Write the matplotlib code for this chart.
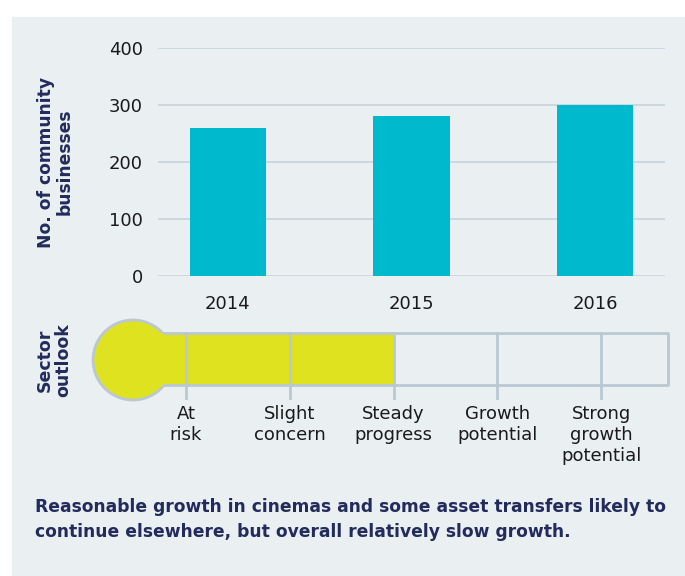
import matplotlib.pyplot as plt
from matplotlib.patches import Rectangle, Circle

# data
years = ['2014', '2015', '2016']
businesses = [260, 280, 300]
y_ticks = [0, 100, 200, 300, 400]
outlook_levels = ['At\nrisk', 'Slight\nconcern', 'Steady\nprogress', 'Growth\npotential',
                  'Strong\ngrowth\npotential']
current_level = 'Steady\nprogress'
note_lines = ["Reasonable growth in cinemas and some asset transfers likely to",
              "continue elsewhere, but overall relatively slow growth."]

navy = '#222b5b'
teal = '#00b9cc'
yellow = '#dfe31f'
panel = '#eaeff2'
grid_c = '#c8d3dc'
tube_c = '#b9c8d3'
txt_c = '#1a1a1a'

plt.rcParams['font.family'] = ['DejaVu Sans']

fig = plt.figure(figsize=(6.85, 5.76), dpi=100)

# background / overlay axes in pixel coordinates
bg = fig.add_axes([0, 0, 1, 1], zorder=0)
bg.set_xlim(0, 685)
bg.set_ylim(576, 0)
bg.axis('off')
bg.add_patch(Rectangle((12, 17), 685 - 12, 576 - 17, color=panel, zorder=0))

# bar chart
ax = fig.add_axes([158 / 685, 1 - 276 / 576, (665 - 158) / 685, (276 - 48) / 576], zorder=1)
ax.set_facecolor('none')
x = range(len(years))
ax.bar(x, businesses, width=0.415, color=teal, zorder=3)
ax.set_xlim(-0.38, 2.38)
ax.set_ylim(0, 400)
ax.set_yticks(y_ticks)
ax.set_xticks(list(x))
ax.set_xticklabels(years)
ax.grid(axis='y', color=grid_c, linewidth=1.2, zorder=0)
for s in ax.spines.values():
    s.set_visible(False)
ax.tick_params(length=0, labelsize=13, colors=txt_c, pad=11)
ax.tick_params(axis='x', pad=14)
ax.set_ylabel('No. of community\nbusinesses', fontsize=12.3, fontweight='bold',
              color=navy, labelpad=25, linespacing=1.05)

# sector outlook thermometer
cx, cy, r = 133, 360, 40
t_top, t_bot, t_right = 333, 385, 668
first_div, step = 186, 103.8
level_x = [first_div + i * step for i in range(len(outlook_levels))]
fill_to = level_x[outlook_levels.index(current_level)]

bg.add_patch(Circle((cx, cy), r, facecolor=yellow, edgecolor=tube_c, lw=2, zorder=2))
bg.add_patch(Rectangle((cx, t_top), fill_to - cx, t_bot - t_top, facecolor=yellow,
                       edgecolor='none', zorder=3))
join_x = cx + (r ** 2 - (cy - t_top) ** 2) ** 0.5
bg.plot([join_x, t_right, t_right, join_x], [t_top, t_top, t_bot, t_bot],
        color=tube_c, lw=2, zorder=4, solid_capstyle='butt')
for lx, lab in zip(level_x, outlook_levels):
    bg.plot([lx, lx], [t_top, t_bot + 13], color=tube_c, lw=2, zorder=4)
    bg.text(lx, 405, lab, ha='center', va='top', fontsize=13, color=txt_c,
            linespacing=1.2)

bg.text(54, cy, 'Sector\noutlook', rotation=90, ha='center', va='center', fontsize=12.5,
        fontweight='bold', color=navy, linespacing=1.05)

# bottom note, sized so the first line spans the panel like the original
renderer = fig.canvas.get_renderer()
probe = bg.text(35, 507, note_lines[0], fontsize=12, fontweight='bold')
w = probe.get_window_extent(renderer).width
probe.remove()
note_size = 12 * 630 / w
for i, line in enumerate(note_lines):
    bg.text(35, 507 + 25 * i, line, ha='left', va='center', fontsize=note_size,
            fontweight='bold', color=navy)

fig.savefig('out.png', dpi=100)
